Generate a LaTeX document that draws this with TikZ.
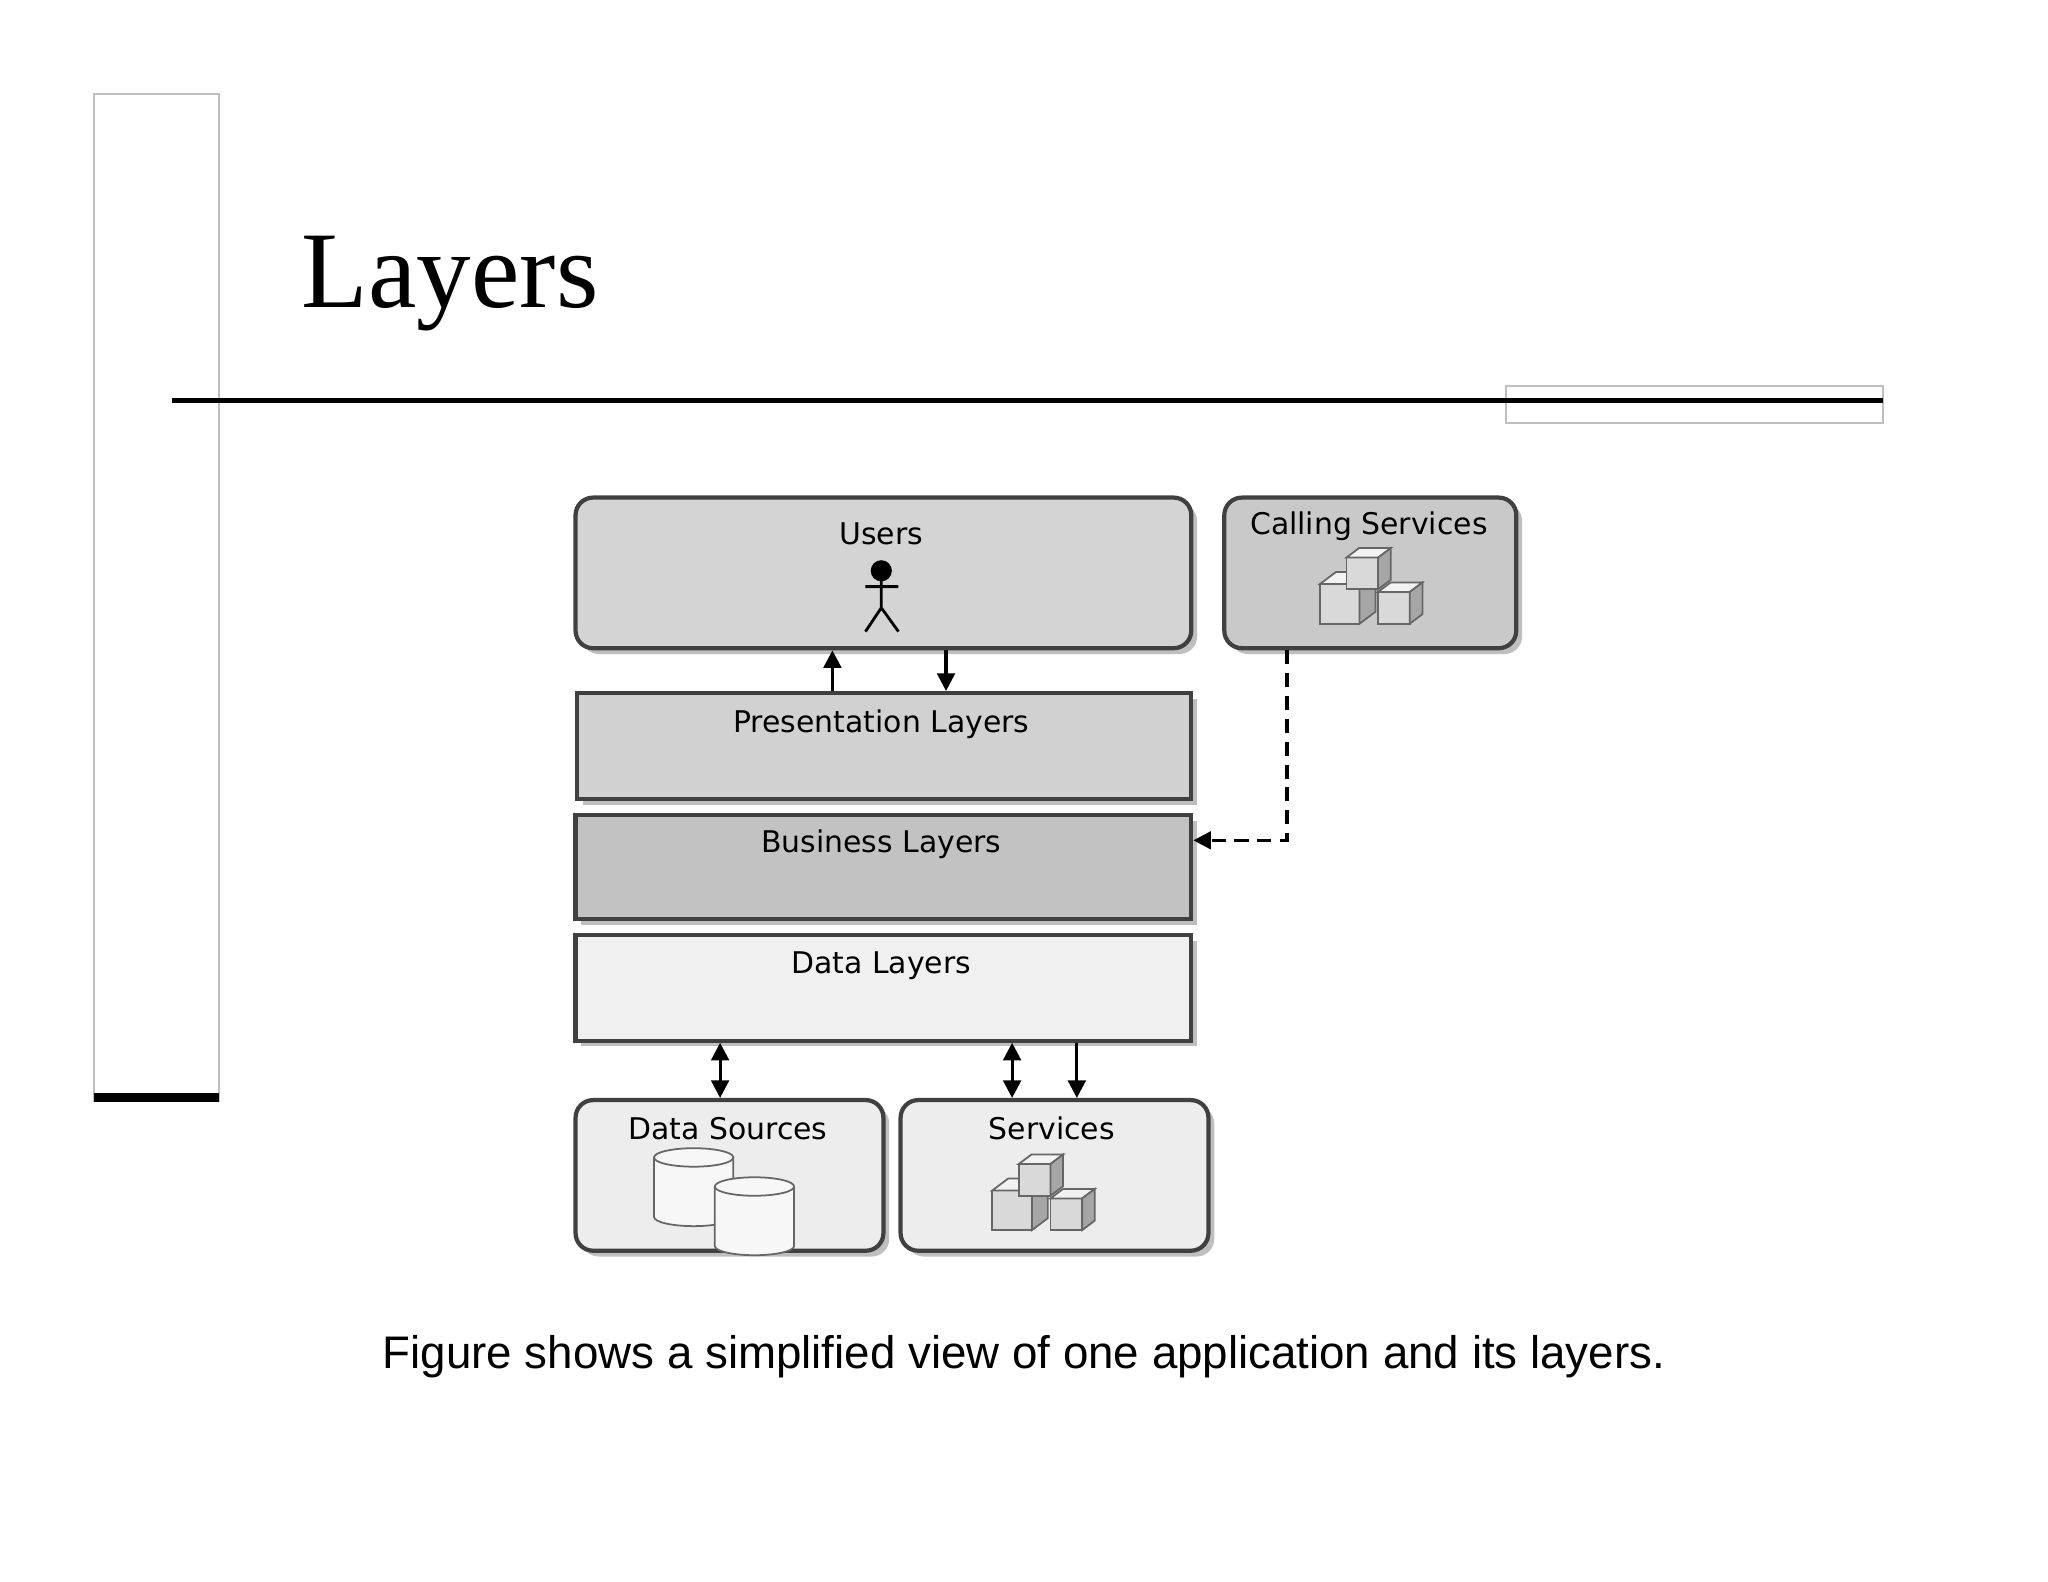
\documentclass[tikz,border=0pt]{standalone}
\usepackage{fontspec}
\setmainfont{Liberation Serif}
\newfontfamily\diagfont{DejaVu Sans}
\newfontfamily\capfont{Liberation Sans}
\usetikzlibrary{arrows.meta,calc}
\def\ux{0.013213cm}
\tikzset{
  layer/.style={draw=black!75, line width=1.2pt, anchor=north west, inner sep=0pt},
  rbox/.style={layer, rounded corners=5pt},
  lbl/.style={font=\diagfont\fontsize{8.5}{10}\selectfont},
  arr/.style={-{Triangle[length=5pt,width=5pt]}, line width=0.9pt},
  darr/.style={{Triangle[length=5pt,width=5pt]}-{Triangle[length=5pt,width=5pt]}, line width=0.9pt},
  shadow/.style={fill=black!25, draw=none},
  pics/cube/.style={code={
    \filldraw[draw=black!60, fill=black!15, line width=0.5pt] (0,0) rectangle (#1,#1);
    \filldraw[draw=black!60, fill=black!5, line width=0.5pt] (0,0) -- ++(0.4*#1,-0.3*#1) -- ++(#1,0) -- (#1,0) -- cycle;
    \filldraw[draw=black!60, fill=black!35, line width=0.5pt] (#1,0) -- ++(0.4*#1,-0.3*#1) -- ++(0,#1) -- (#1,#1) -- cycle;
  }},
  pics/cyl/.style={code={
    \filldraw[draw=black!60, fill=black!3, line width=0.5pt] (0,0) -- (0,45) arc[start angle=180,end angle=0,x radius=30,y radius=7] -- (60,0);
    \filldraw[draw=black!60, fill=black!3, line width=0.5pt] (30,0) ellipse[x radius=30,y radius=7];
  }}
}
\begin{document}
\begin{tikzpicture}[x=\ux, y=-\ux]
\useasboundingbox (0,0) rectangle (1550,1197);
% slide frame
\draw[black!25, line width=0.6pt] (71,71) rectangle (166,833);
\fill[black] (71,827) rectangle (166,834);
\draw[black!25, line width=0.6pt] (1140,292) rectangle (1425,320);
\draw[black, line width=1.6pt] (130,303) -- (1425,303);
\node[anchor=base west, font=\fontsize{31}{36}\selectfont, inner sep=0pt] (title) at (228,233) {Layers};
% shadows
\fill[shadow, rounded corners=5pt] (440,381) rectangle (906,495);
\fill[shadow, rounded corners=5pt] (931,381) rectangle (1152,495);
\fill[shadow] (441,529) rectangle (906,609);
\fill[shadow] (440,621) rectangle (906,700);
\fill[shadow] (440,712) rectangle (906,792);
\fill[shadow, rounded corners=5pt] (440,837) rectangle (673,951);
\fill[shadow, rounded corners=5pt] (686,837) rectangle (919,951);
% boxes
\node[rbox, fill=black!17, minimum width=466*\ux, minimum height=114*\ux] (users) at (434,375) {};
\node[rbox, fill=black!21, minimum width=221*\ux, minimum height=114*\ux] (calling) at (925,375) {};
\node[layer, fill=black!18, minimum width=465*\ux, minimum height=80*\ux] (pres) at (435,523) {};
\node[layer, fill=black!24, minimum width=466*\ux, minimum height=79*\ux] (bus) at (434,615) {};
\node[layer, fill=black!6, minimum width=466*\ux, minimum height=80*\ux] (data) at (434,706) {};
\node[rbox, fill=black!7, minimum width=233*\ux, minimum height=114*\ux] (dsrc) at (434,831) {};
\node[rbox, fill=black!7, minimum width=233*\ux, minimum height=114*\ux] (serv) at (680,831) {};
% labels
\node[lbl] (tusers) at (667,404) {Users};
\node[lbl] (tcall) at (1036,398) {Calling Services};
\node[lbl] (tpres) at (667,548) {Presentation Layers};
\node[lbl] (tbus) at (667,639) {Business Layers};
\node[lbl] (tdata) at (667,731) {Data Layers};
\node[lbl] (tdsrc) at (551,854) {Data Sources};
\node[lbl] (tserv) at (796,854) {Services};
% stick figure
\fill (667,432) circle[radius=8];
\draw[line width=0.8pt] (667,438) -- (667,460) (655,444) -- (680,444) (655,478) -- (667,460) -- (680,478);
% cubes
\pic at (999,442) {cube=30};
\pic at (1019,422) {cube=24};
\pic at (1043,448) {cube=24};
\pic at (751,901) {cube=30};
\pic at (771,881) {cube=24};
\pic at (795,907) {cube=24};
% cylinders
\pic at (495,876) {cyl};
\pic at (541,898) {cyl};
% connectors
\draw[arr] (pres.north -| 630,0) -- (users.south -| 630,0);
\draw[arr] (users.south -| 716,0) -- (pres.north -| 716,0);
\draw[darr] (data.south -| 545,0) -- (dsrc.north -| 545,0);
\draw[darr] (data.south -| 766,0) -- (serv.north -| 766,0);
\draw[arr] (data.south -| 815,0) -- (serv.north -| 815,0);
\coordinate (bend) at (974,636);
\draw[arr, dash pattern=on 4pt off 2.5pt] (calling.south -| bend) -- (bend) -- (bus.east |- bend);
% caption
\node[font=\capfont\fontsize{13}{15}\selectfont] (cap) at (775,1027) {Figure shows a simplified view of one application and its layers.};
\end{tikzpicture}
\end{document}
